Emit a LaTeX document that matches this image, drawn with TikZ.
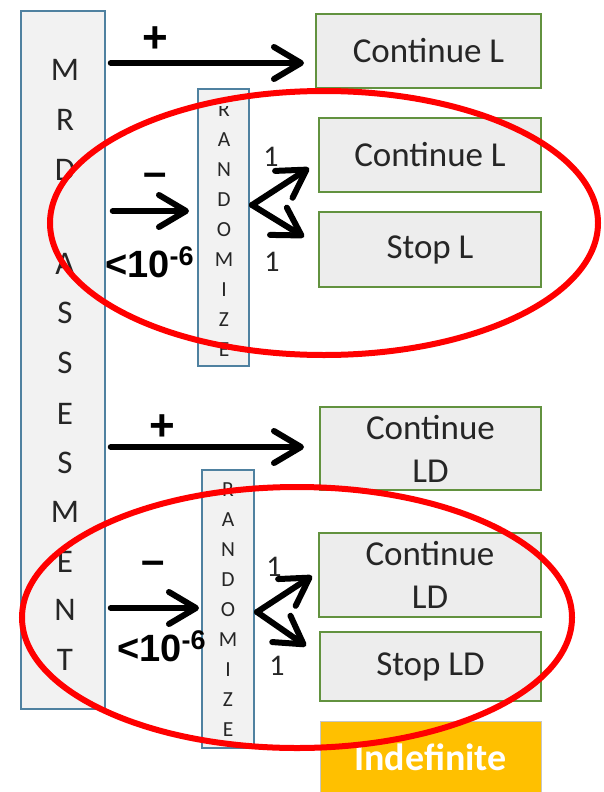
\documentclass[tikz,border=0pt]{standalone}
\usepackage{fontspec}
\setmainfont{Carlito}
\newfontfamily\arialf{Liberation Sans}
\usetikzlibrary{arrows.meta}
\definecolor{boxfill}{HTML}{F2F2F2}
\definecolor{blueb}{HTML}{4F81A0}
\definecolor{greenb}{HTML}{62923F}
\definecolor{gfill}{HTML}{EDEDED}
\definecolor{txt}{HTML}{262626}
\definecolor{orng}{HTML}{FFC000}
\definecolor{redl}{HTML}{FF0000}
\begin{document}
\begin{tikzpicture}[x=1pt,y=-1pt,
 vbox/.style={draw=blueb, fill=boxfill, line width=1.5pt, inner sep=0pt},
 gbox/.style={draw=greenb, fill=gfill, line width=1.5pt, inner sep=0pt, text=txt,
   font=\fontsize{35}{43}\selectfont, align=center},
 bigl/.style={text=txt, font=\fontsize{33}{33}\selectfont, inner sep=0pt},
 smal/.style={text=txt, font=\fontsize{21.5}{21.5}\selectfont, inner sep=0pt},
 one/.style={text=txt, font=\fontsize{30}{30}\selectfont, inner sep=0pt},
 sign/.style={text=black, inner sep=0pt},
 pval/.style={text=black, inner sep=0pt, anchor=base west,
   font=\arialf\bfseries\fontsize{38}{38}\selectfont},
 arr/.style={line width=6pt, line cap=round, -{Straight Barb[length=27pt,width=32pt,round]}},
 ring/.style={draw=redl, line width=6pt}
]
\useasboundingbox (0,0) rectangle (603,792);

% MRD ASSESMENT column
\node[vbox, minimum width=84pt, minimum height=698pt] (mrd) at (63,360) {};
\foreach \ch/\yy [count=\i] in {M/70,R/120,D/170,A/264,S/313,S/363,E/414,S/463,M/512,E/562,N/610,T/660}
  \node[bigl] (mrdl\i) at (65,\yy) {\ch};

% Randomize boxes
\node[vbox, minimum width=51pt, minimum height=277pt] (rand1) at (223.5,227.5) {};
\node[vbox, minimum width=52pt, minimum height=278pt] (rand2) at (228,609) {};
\begin{scope}
  \clip (198,106) rectangle (249,366);
  \foreach \ch [count=\i] in {R,A,N,D,O,M,I,Z,E}
    \node[smal] (ra\i) at (224,{80+30*\i}) {\ch};
\end{scope}
\begin{scope}
  \clip (202,471) rectangle (254,748);
  \foreach \ch [count=\i] in {R,A,N,D,O,M,I,Z,E}
    \node[smal] (rb\i) at (228,{460+30*\i}) {\ch};
\end{scope}

% Outcome boxes
\node[gbox, minimum width=225pt, minimum height=74pt] (cl1) at (428.5,51) {Continue L};
\node[gbox, minimum width=222pt, minimum height=74pt] (cl2) at (430,155) {Continue L};
\node[gbox, minimum width=222pt, minimum height=75pt] (sl) at (430,249.5) {Stop L};
\node[gbox, minimum width=221pt, minimum height=83pt] (cld1) at (430.5,448.5) {Continue\\LD};
\node[gbox, minimum width=222pt, minimum height=84pt] (cld2) at (430,575) {Continue\\LD};
\node[gbox, minimum width=221pt, minimum height=69pt] (sld) at (430.5,666.5) {Stop LD};

% arrow end points
\coordinate (e1) at (304,63);
\coordinate (e2) at (189,211);
\coordinate (f1) at (252,205);
\coordinate (u1) at (309,168);
\coordinate (d1) at (304,237);
\coordinate (e3) at (304,447);
\coordinate (e4) at (199,608);
\coordinate (f2) at (257,612);
\coordinate (u2) at (312,576);
\coordinate (d2) at (306,646);

\draw[arr] ([xshift=5pt]mrd.east |- e1) -- (e1);
\draw[arr] ([xshift=7pt]mrd.east |- e2) -- (e2);
\draw[arr] (f1) -- (u1);
\draw[arr] (f1) -- (d1);
\draw[arr] ([xshift=5pt]mrd.east |- e3) -- (e3);
\draw[arr] ([xshift=5pt]mrd.east |- e4) -- (e4);
\draw[arr] (f2) -- (u2);
\draw[arr] (f2) -- (d2);

% labels
\node[sign, font=\arialf\bfseries\fontsize{44}{44}\selectfont] (plus1) at (155,40) {+};
\node[sign, font=\arialf\bfseries\fontsize{42}{42}\selectfont] (minus1) at (155,180) {–};
\node[sign, font=\arialf\bfseries\fontsize{44}{44}\selectfont] (plus2) at (162,428) {+};
\node[sign, font=\arialf\bfseries\fontsize{42}{42}\selectfont] (minus2) at (153,568) {–};
\node[pval] (pv1) at (105,277) {<10\raisebox{12pt}{\fontsize{27}{27}\selectfont -6}};
\node[pval] (pv2) at (117,661) {<10\raisebox{12pt}{\fontsize{27}{27}\selectfont -6}};
\node[one] (o1) at (271,157) {1};
\node[one] (o2) at (272,262) {1};
\node[one] (o3) at (274,567) {1};
\node[one] (o4) at (277,666) {1};

% Indefinite
\node[fill=orng, draw=gray!45, line width=0.8pt, minimum width=221pt, minimum height=72pt,
  inner sep=0pt, text=white, font=\bfseries\fontsize{38}{38}\selectfont] (ind) at (430.5,757) {Indefinite};

% red ellipses
\draw[ring] (324,223) ellipse [x radius=274, y radius=132];
\draw[ring] (297,617.5) ellipse [x radius=275, y radius=130.5];
\end{tikzpicture}
\end{document}
